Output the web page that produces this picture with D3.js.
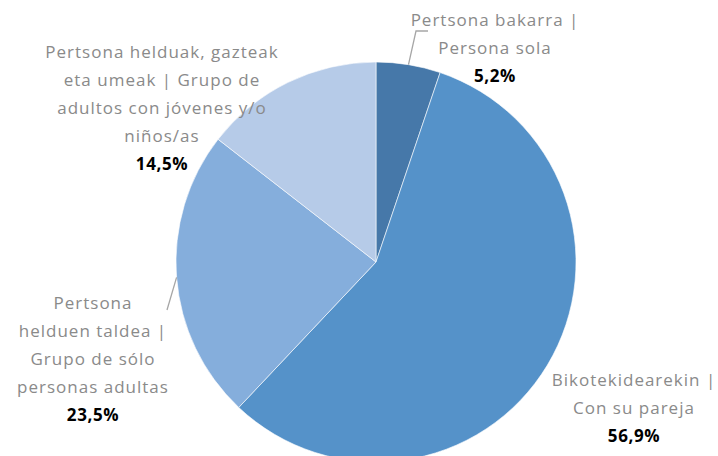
<!DOCTYPE html>
<html>
<head>
<meta charset="utf-8">
<script src="https://cdn.jsdelivr.net/npm/d3@7"></script>
<style>
  body { margin: 0; background: #fff; }
  svg text { font-family: 'Open Sans', sans-serif; }
</style>
</head>
<body>
<div id="chart"></div>
<script>
// data
const categories = [
  ['Pertsona bakarra |', 'Persona sola'],
  ['Bikotekidearekin |', 'Con su pareja'],
  ['Pertsona', 'helduen taldea |', 'Grupo de sólo', 'personas adultas'],
  ['Pertsona helduak, gazteak', 'eta umeak | Grupo de', 'adultos con jóvenes y/o', 'niños/as']
];
const values = [5.2, 56.9, 23.5, 14.5];
const valueLabels = ['5,2%', '56,9%', '23,5%', '14,5%'];

const colors = ['#4678a9', '#5592c9', '#85aedc', '#b6cbe8'];

// label layout: center x and first baseline, plus leader end point (null = none)
const labelPos = [
  { x: 495, y: 26, leader: [[416, 31], [428, 31]] },
  { x: 634, y: 386, leader: null },
  { x: 93, y: 309, leader: [[167, 310]] },
  { x: 162, y: 58, leader: null }
];

const width = 718, height = 456;
const cx = 376, cy = 262, radius = 200;
const lineH = 28;

const svg = d3.select('#chart')
  .append('svg')
  .attr('width', width)
  .attr('height', height);

const pie = d3.pie().sort(null).value(d => d);
const arc = d3.arc().innerRadius(0).outerRadius(radius);

const arcs = pie(values);

const g = svg.append('g').attr('transform', `translate(${cx},${cy})`);

g.selectAll('path')
  .data(arcs)
  .enter()
  .append('path')
  .attr('d', arc)
  .attr('fill', (d, i) => colors[i])
  .attr('stroke', '#ffffff')
  .attr('stroke-width', 0.6);

// leader lines
arcs.forEach((d, i) => {
  const lp = labelPos[i];
  if (!lp.leader) return;
  const mid = (d.startAngle + d.endAngle) / 2;
  const pts = [[cx + radius * Math.sin(mid), cy - radius * Math.cos(mid)]].concat(lp.leader);
  svg.append('path')
    .attr('d', d3.line()(pts))
    .attr('fill', 'none')
    .attr('stroke', '#a6a6a6')
    .attr('stroke-width', 1.3);
});

// labels
const labels = svg.append('g');
categories.forEach((lines, i) => {
  const lp = labelPos[i];
  const t = labels.append('text')
    .attr('text-anchor', 'middle')
    .attr('font-size', 17)
    .attr('letter-spacing', 1);
  lines.forEach((line, j) => {
    t.append('tspan')
      .attr('x', lp.x)
      .attr('y', lp.y + j * lineH)
      .attr('fill', '#8a8a8a')
      .text(line);
  });
  t.append('tspan')
    .attr('x', lp.x)
    .attr('y', lp.y + lines.length * lineH)
    .attr('fill', '#000000')
    .attr('font-weight', 700)
    .attr('letter-spacing', 0.6)
    .text(valueLabels[i]);
});
</script>
</body>
</html>
